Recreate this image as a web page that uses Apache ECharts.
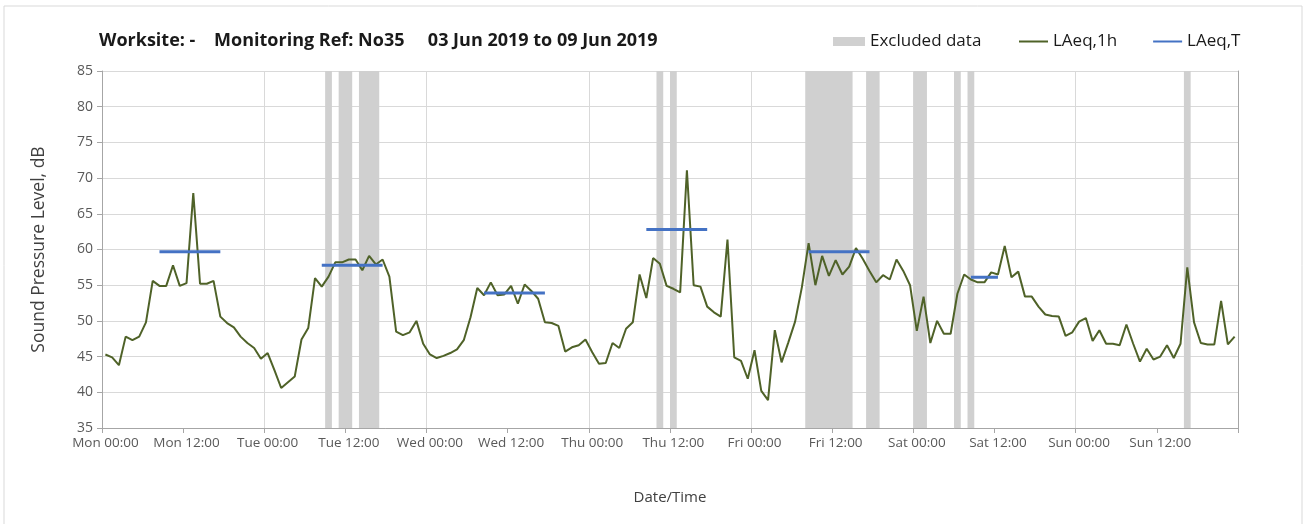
<!DOCTYPE html>
<html>
<head>
<meta charset="utf-8">
<script src="https://cdn.jsdelivr.net/npm/echarts@6/dist/echarts.min.js"></script>
<style>
html,body{margin:0;padding:0;background:#fff;}
#c{width:1307px;height:524px;}
</style>
</head>
<body>
<div id="c"></div>
<script>
// ---- data ----
const days = ['Mon','Tue','Wed','Thu','Fri','Sat','Sun'];
const hoursPerDay = 24;
// hourly LAeq,1h values, Mon 00:00 .. Sun 23:00
const laeq1h = [
 45.3,44.9,43.8,47.8,47.3,47.8,49.8,55.6,54.9,54.9,57.8,54.9,55.3,67.9,55.2,55.2,55.6,50.6,49.7,49.1,47.8,46.9,46.2,44.7,
 45.5,43.1,40.6,41.4,42.2,47.4,49.0,56.0,54.8,56.2,58.2,58.2,58.6,58.6,57.1,59.1,57.9,58.6,56.2,48.5,48.0,48.4,50.0,46.8,
 45.3,44.8,45.1,45.5,46.0,47.3,50.5,54.6,53.6,55.4,53.6,53.7,54.9,52.4,55.1,54.2,53.1,49.8,49.7,49.3,45.7,46.3,46.6,47.4,
 45.6,44.0,44.1,46.9,46.2,48.9,49.8,56.5,53.2,58.8,58.0,54.9,54.5,54.0,71.1,55.0,54.8,52.0,51.2,50.6,61.4,44.9,44.4,41.9,
 45.9,40.2,38.9,48.7,44.2,47.0,49.9,54.7,60.9,55.0,59.1,56.3,58.5,56.5,57.6,60.2,58.7,57.0,55.4,56.4,55.8,58.6,57.0,55.0,
 48.6,53.4,46.9,50.0,48.2,48.2,53.8,56.5,55.8,55.4,55.4,56.8,56.5,60.5,56.1,56.9,53.4,53.4,52.0,50.9,50.7,50.6,47.9,48.4,
 49.9,50.4,47.2,48.7,46.8,46.8,46.6,49.5,46.8,44.3,46.1,44.6,45.0,46.6,44.8,46.8,57.5,49.8,46.9,46.7,46.7,52.8,46.7,47.8
];
// hour indexes flagged as excluded data
const excludedHours = [33,35,36,38,39,40,82,84,104,105,106,107,108,109,110,113,114,120,121,126,128,160];
// LAeq,T periods: start hour index, end hour index, level
const tStart = [8,32,56,80,104,128];
const tEnd   = [17,41,65,89,113,132];
const tLevel = [59.7,57.8,53.9,62.8,59.7,56.1];
const yTicks = {min:35, max:85, interval:5};

// ---- build ----
const categories = [];
days.forEach(d => { for (let h = 0; h < hoursPerDay; h++) categories.push(d + ' ' + String(h).padStart(2,'0') + ':00'); });
// group consecutive excluded hours into runs [first, last]
const excludedRuns = [];
excludedHours.forEach(h => {
  const last = excludedRuns[excludedRuns.length - 1];
  if (last && h === last[1] + 1) last[1] = h; else excludedRuns.push([h, h]);
});
const laeqT = categories.map(() => null);
tStart.forEach((s,k) => { for (let i = s; i <= tEnd[k]; i++) laeqT[i] = tLevel[k]; });

const FONT = 'Open Sans';
const GREY = '#d0d0d0';
const chart = echarts.init(document.getElementById('c'));
chart.setOption({
  animation:false,
  textStyle:{fontFamily:FONT},
  title:{
    text:'Worksite: -    Monitoring Ref: No35     03 Jun 2019 to 09 Jun 2019',
    left:99, top:32, padding:0,
    textStyle:{fontFamily:FONT, fontSize:18, fontWeight:'bold', color:'#1a1a1a'}
  },
  legend:[
    {data:['Excluded data'], left:833, top:33, padding:0, icon:'rect', itemWidth:32, itemHeight:9,
     textStyle:{fontFamily:FONT, fontSize:17, color:'#1a1a1a'}},
    {data:['LAeq,1h','LAeq,T'], left:1019, top:33, padding:0, icon:'rect', itemWidth:29, itemHeight:2, itemGap:36,
     textStyle:{fontFamily:FONT, fontSize:17, color:'#1a1a1a'}}
  ],
  graphic:[{type:'rect', shape:{x:4, y:6, width:1298, height:530}, style:{fill:'none', stroke:'#d9d9d9', lineWidth:1}, silent:true}],
  grid:{left:102, right:69, top:71, bottom:96},
  xAxis:{
    type:'category', data:categories, boundaryGap:true,
    name:'Date/Time', nameLocation:'middle', nameGap:62,
    nameTextStyle:{fontFamily:FONT, fontSize:15, color:'#404040'},
    axisLine:{lineStyle:{color:'#a6a6a6'}},
    axisTick:{show:true, interval:11, length:5, lineStyle:{color:'#a6a6a6'}},
    axisLabel:{interval:11, fontSize:13.5, color:'#595959', margin:8, fontFamily:FONT},
    splitLine:{show:true, interval:23, lineStyle:{color:'#d9d9d9'}}
  },
  yAxis:[{
    type:'value', min:yTicks.min, max:yTicks.max, interval:yTicks.interval,
    name:'Sound Pressure Level, dB', nameLocation:'middle', nameGap:54,
    nameTextStyle:{fontFamily:FONT, fontSize:17.5, color:'#404040'},
    axisLine:{show:true, lineStyle:{color:'#a6a6a6'}},
    axisTick:{show:true, length:5, lineStyle:{color:'#a6a6a6'}},
    axisLabel:{fontSize:14, color:'#595959', margin:9, fontFamily:FONT},
    splitLine:{show:true, lineStyle:{color:'#d9d9d9'}}
  },{
    type:'value', position:'right', min:yTicks.min, max:yTicks.max, interval:yTicks.interval,
    axisLine:{show:true, lineStyle:{color:'#a6a6a6'}},
    axisTick:{show:false}, axisLabel:{show:false}, splitLine:{show:false}
  }],
  series:[
    {name:'Excluded data', type:'custom', data:excludedRuns, clip:true, silent:true,
     color:GREY, itemStyle:{color:GREY},
     encode:{x:[0,1]},
     renderItem:function(params, api){
       const w = api.size([1, 0])[0];
       const p0 = api.coord([api.value(0), yTicks.max]);
       const p1 = api.coord([api.value(1), yTicks.min]);
       return {type:'rect',
         shape:{x:p0[0] - w/2, y:p0[1], width:p1[0] - p0[0] + w, height:p1[1] - p0[1]},
         style:{fill:GREY}};
     }},
    {name:'LAeq,1h', type:'line', data:laeq1h, showSymbol:false, symbol:'none', color:'#4f6228',
     lineStyle:{color:'#4f6228', width:2}, itemStyle:{color:'#4f6228'}},
    {name:'LAeq,T', type:'line', data:laeqT, showSymbol:false, symbol:'none', color:'#4472c4', connectNulls:false,
     lineStyle:{color:'#4472c4', width:3}, itemStyle:{color:'#4472c4'}}
  ]
});
</script>
</body>
</html>
